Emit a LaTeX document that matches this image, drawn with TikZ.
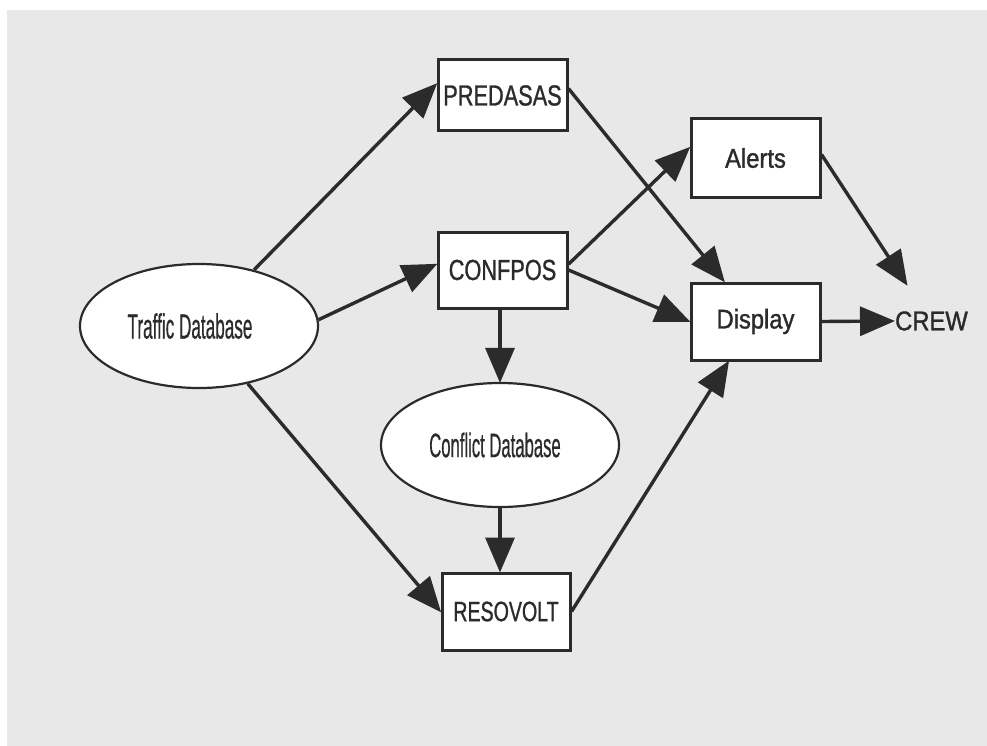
\documentclass[tikz,border=0pt]{standalone}
\usepackage{fontspec}
\setmainfont{Liberation Sans}
\newfontfamily\condfont[FakeStretch=0.49,FakeBold=0.4]{Liberation Sans}
\newfontfamily\capsfont[FakeStretch=0.75,FakeBold=0.9]{Liberation Sans}
\newfontfamily\resofont[FakeStretch=0.7,FakeBold=0.9]{Liberation Sans}
\newfontfamily\boxfont[FakeStretch=0.88,FakeBold=1.3]{Liberation Sans}
\usetikzlibrary{shapes.geometric,arrows.meta,calc}
\definecolor{bg}{HTML}{E8E8E8}
\definecolor{ink}{HTML}{2B2B2B}
\tikzset{
  procbox/.style={draw=ink, line width=3pt, fill=white, minimum width=129pt, minimum height=76pt, inner sep=0pt, text=ink},
  dbell/.style={ellipse, draw=ink, line width=2.2pt, fill=white, minimum width=238pt, minimum height=124pt, inner sep=0pt, text=ink},
  flow/.style={draw=ink, line width=3.4pt, -{Triangle[length=35pt,width=29pt]}, shorten >=-1pt},
  lbl/.style={text=ink, inner sep=1pt}
}
\begin{document}
\begin{tikzpicture}[x=1pt,y=-1pt]
\useasboundingbox (0,0) rectangle (987,746);
\fill[bg] (7,10) rectangle (987,746);
\node[procbox, minimum height=71pt] (pre) at (502.5,95.5) {\capsfont\fontsize{29}{30}\selectfont PREDASAS};
\node[procbox] (cfp) at (502.5,270) {\capsfont\fontsize{29}{30}\selectfont CONFPOS};
\node[procbox, minimum height=78pt] (alr) at (755.5,158) {\boxfont\fontsize{27}{30}\selectfont Alerts};
\node[procbox, minimum height=77pt] (dsp) at (755.5,321.5) {\boxfont\fontsize{27}{30}\selectfont Display};
\node[procbox, minimum width=128pt, minimum height=77pt] (res) at (506,611.5) {\resofont\fontsize{28}{30}\selectfont RESOVOLT};
\node[dbell] (trf) at (199,326) {\condfont\fontsize{35}{36}\selectfont\hspace*{-18pt}Traffic Database};
\node[dbell] (cdb) at (500,445) {\condfont\fontsize{34}{36}\selectfont\hspace*{-10pt}Conflict Database};
\node[lbl, anchor=west] (crew) at (894,321) {\boxfont\fontsize{27}{30}\selectfont CREW};
\coordinate (crewin) at (907,285);
\draw[flow] (trf) -- (pre.170);
\draw[flow] (trf.3) -- (cfp.175);
\draw[flow] (trf) -- (res.west);
\draw[flow] (pre.6) -- (dsp.128);
\draw[flow] (cfp.5) -- (alr.171);
\draw[flow] (cfp.east) -- (dsp.west);
\draw[flow] (cfp.south -| cdb.north) -- (cdb.north);
\draw[flow] (cdb.south) -- (res.north -| cdb.south);
\draw[flow] (res.east) -- (dsp.236);
\draw[flow] (alr.3) -- (crewin);
\draw[flow] (dsp.east) -- (crew.west);
\end{tikzpicture}
\end{document}
